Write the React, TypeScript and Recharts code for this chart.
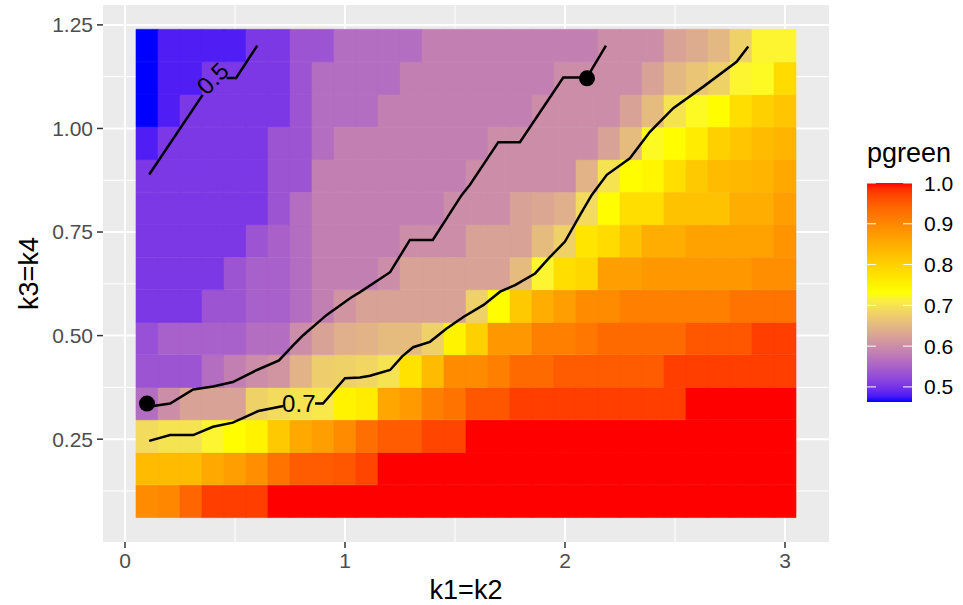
import React from 'react';
import { ScatterChart, Scatter, XAxis, YAxis, ReferenceArea, ReferenceDot, CartesianGrid, Label } from 'recharts';

// ---------- data ----------
const kx = [0.1, 0.2, 0.3, 0.4, 0.5, 0.6, 0.7, 0.8, 0.9, 1.0, 1.1, 1.2, 1.3, 1.4, 1.5, 1.6, 1.7, 1.8, 1.9, 2.0, 2.1, 2.2, 2.3, 2.4, 2.5, 2.6, 2.7, 2.8, 2.9, 3.0];
const ky = [0.1, 0.179, 0.257, 0.336, 0.414, 0.493, 0.571, 0.65, 0.729, 0.807, 0.886, 0.964, 1.043, 1.121, 1.2];

const pg_y0100 = [0.895, 0.9, 0.94, 0.975, 0.975, 0.975, 1, 1, 1, 1, 1, 1, 1, 1, 1, 1, 1, 1, 1, 1, 1, 1, 1, 1, 1, 1, 1, 1, 1, 1];
const pg_y0179 = [0.83, 0.83, 0.83, 0.855, 0.87, 0.89, 0.925, 0.95, 0.95, 0.955, 0.97, 1, 1, 1, 1, 1, 1, 1, 1, 1, 1, 1, 1, 1, 1, 1, 1, 1, 1, 1];
const pg_y0257 = [0.69, 0.7, 0.7, 0.72, 0.735, 0.75, 0.81, 0.855, 0.87, 0.895, 0.93, 0.95, 0.95, 0.97, 0.97, 1, 1, 1, 1, 1, 1, 1, 1, 1, 1, 1, 1, 1, 1, 1];
const pg_y0336 = [0.563, 0.6, 0.625, 0.625, 0.625, 0.68, 0.69, 0.7, 0.705, 0.75, 0.76, 0.86, 0.875, 0.91, 0.925, 0.955, 0.955, 0.975, 0.975, 0.975, 0.975, 0.975, 0.975, 0.975, 0.975, 1, 1, 1, 1, 1];
const pg_y0414 = [0.535, 0.535, 0.535, 0.563, 0.585, 0.6, 0.61, 0.645, 0.675, 0.68, 0.685, 0.7, 0.775, 0.83, 0.895, 0.895, 0.91, 0.935, 0.935, 0.95, 0.95, 0.95, 0.95, 0.95, 0.975, 0.975, 0.975, 0.975, 0.975, 0.975];
const pg_y0493 = [0.53, 0.548, 0.548, 0.548, 0.548, 0.563, 0.563, 0.6, 0.625, 0.64, 0.645, 0.655, 0.655, 0.68, 0.75, 0.8, 0.88, 0.88, 0.91, 0.91, 0.92, 0.935, 0.935, 0.935, 0.935, 0.955, 0.955, 0.955, 0.975, 0.975];
const pg_y0571 = [0.505, 0.505, 0.505, 0.535, 0.535, 0.548, 0.548, 0.563, 0.585, 0.61, 0.625, 0.625, 0.625, 0.625, 0.625, 0.68, 0.735, 0.81, 0.85, 0.87, 0.895, 0.895, 0.91, 0.91, 0.91, 0.91, 0.91, 0.925, 0.925, 0.925];
const pg_y0650 = [0.505, 0.505, 0.505, 0.505, 0.535, 0.548, 0.548, 0.563, 0.585, 0.585, 0.585, 0.6, 0.625, 0.625, 0.625, 0.625, 0.625, 0.655, 0.72, 0.78, 0.79, 0.87, 0.87, 0.88, 0.88, 0.88, 0.88, 0.88, 0.89, 0.89];
const pg_y0729 = [0.505, 0.505, 0.505, 0.505, 0.505, 0.535, 0.55, 0.563, 0.585, 0.585, 0.585, 0.585, 0.6, 0.6, 0.6, 0.625, 0.625, 0.625, 0.655, 0.68, 0.77, 0.785, 0.82, 0.85, 0.85, 0.865, 0.865, 0.865, 0.865, 0.885];
const pg_y0807 = [0.505, 0.505, 0.505, 0.505, 0.505, 0.505, 0.535, 0.563, 0.585, 0.585, 0.585, 0.585, 0.585, 0.585, 0.6, 0.6, 0.6, 0.625, 0.63, 0.64, 0.69, 0.735, 0.78, 0.78, 0.82, 0.82, 0.82, 0.85, 0.85, 0.87];
const pg_y0886 = [0.505, 0.505, 0.505, 0.505, 0.505, 0.505, 0.535, 0.535, 0.585, 0.585, 0.585, 0.585, 0.585, 0.585, 0.585, 0.6, 0.6, 0.6, 0.6, 0.6, 0.645, 0.7, 0.735, 0.745, 0.78, 0.81, 0.83, 0.835, 0.84, 0.855];
const pg_y0964 = [0.48, 0.505, 0.505, 0.505, 0.505, 0.505, 0.535, 0.535, 0.563, 0.585, 0.585, 0.585, 0.585, 0.585, 0.585, 0.585, 0.6, 0.6, 0.6, 0.6, 0.6, 0.625, 0.655, 0.725, 0.735, 0.76, 0.8, 0.815, 0.83, 0.84];
const pg_y1043 = [0.463, 0.48, 0.505, 0.505, 0.505, 0.505, 0.505, 0.535, 0.563, 0.563, 0.563, 0.585, 0.585, 0.585, 0.585, 0.585, 0.585, 0.585, 0.6, 0.6, 0.6, 0.6, 0.625, 0.655, 0.7, 0.725, 0.735, 0.78, 0.8, 0.815];
const pg_y1121 = [0.463, 0.48, 0.48, 0.505, 0.505, 0.505, 0.505, 0.535, 0.563, 0.563, 0.563, 0.563, 0.585, 0.585, 0.585, 0.585, 0.585, 0.585, 0.585, 0.6, 0.6, 0.6, 0.6, 0.625, 0.65, 0.665, 0.68, 0.72, 0.725, 0.785];
const pg_y1200 = [0.463, 0.48, 0.48, 0.48, 0.48, 0.505, 0.505, 0.535, 0.535, 0.563, 0.563, 0.563, 0.563, 0.585, 0.585, 0.585, 0.585, 0.585, 0.585, 0.585, 0.585, 0.6, 0.6, 0.6, 0.625, 0.635, 0.65, 0.68, 0.72, 0.72];

const pgreenRows = [pg_y0100, pg_y0179, pg_y0257, pg_y0336, pg_y0414, pg_y0493, pg_y0571, pg_y0650, pg_y0729, pg_y0807, pg_y0886, pg_y0964, pg_y1043, pg_y1121, pg_y1200];

const contour05a = [{ x: 0.11, y: 0.889 }, { x: 0.353, y: 1.081 }];
const contour05b = [{ x: 0.462, y: 1.122 }, { x: 0.505, y: 1.122 }, { x: 0.601, y: 1.2 }];
const contour06 = [
  { x: 0.105, y: 0.328 }, { x: 0.205, y: 0.336 }, { x: 0.31, y: 0.37 }, { x: 0.4, y: 0.377 }, { x: 0.49, y: 0.388 },
  { x: 0.6, y: 0.417 }, { x: 0.7, y: 0.44 }, { x: 0.765, y: 0.477 }, { x: 0.81, y: 0.501 }, { x: 0.917, y: 0.55 },
  { x: 1.023, y: 0.59 }, { x: 1.068, y: 0.605 }, { x: 1.205, y: 0.653 }, { x: 1.295, y: 0.731 }, { x: 1.399, y: 0.731 },
  { x: 1.53, y: 0.839 }, { x: 1.568, y: 0.864 }, { x: 1.697, y: 0.967 }, { x: 1.795, y: 0.967 }, { x: 1.992, y: 1.123 },
  { x: 2.1, y: 1.123 }, { x: 2.186, y: 1.2 },
];
const contour07a = [
  { x: 0.11, y: 0.246 }, { x: 0.205, y: 0.26 }, { x: 0.31, y: 0.26 }, { x: 0.4, y: 0.28 }, { x: 0.49, y: 0.29 },
  { x: 0.606, y: 0.318 }, { x: 0.72, y: 0.33 },
];
const contour07b = [
  { x: 0.864, y: 0.336 }, { x: 0.9, y: 0.336 }, { x: 1.0, y: 0.397 }, { x: 1.068, y: 0.399 }, { x: 1.114, y: 0.403 },
  { x: 1.205, y: 0.417 }, { x: 1.26, y: 0.45 }, { x: 1.31, y: 0.472 }, { x: 1.386, y: 0.485 }, { x: 1.462, y: 0.517 },
  { x: 1.538, y: 0.545 }, { x: 1.63, y: 0.574 }, { x: 1.705, y: 0.606 }, { x: 1.773, y: 0.622 }, { x: 1.864, y: 0.65 },
  { x: 1.932, y: 0.69 }, { x: 2.0, y: 0.727 }, { x: 2.068, y: 0.791 }, { x: 2.121, y: 0.839 }, { x: 2.19, y: 0.888 },
  { x: 2.295, y: 0.928 }, { x: 2.386, y: 0.992 }, { x: 2.492, y: 1.049 }, { x: 2.629, y: 1.101 }, { x: 2.78, y: 1.161 },
  { x: 2.833, y: 1.198 },
];
const contourLabels = [
  { x: 0.40, y: 1.12, text: '0.5', angle: -45 },
  { x: 0.79, y: 0.335, text: '0.7', angle: 0 },
];
const markedPoints = [{ x: 0.1, y: 0.336 }, { x: 2.1, y: 1.121 }];

const xTicks = [0, 1, 2, 3];
const yTicks = [0.25, 0.5, 0.75, 1.0, 1.25];
const xMinor = [0.5, 1.5, 2.5];
const yMinor = [0.125, 0.375, 0.625, 0.875, 1.125];
const legendTicks = [0.5, 0.6, 0.7, 0.8, 0.9, 1.0];
const fillLimits = [0.463, 1.0];

// ---------- colour scale (Lab interpolation blue - yellow - red) ----------
const WHITE = [0.95047, 1, 1.08883];
const toLin = (c: number) => { c /= 255; return c <= 0.04045 ? c / 12.92 : Math.pow((c + 0.055) / 1.055, 2.4); };
const fromLin = (c: number) => {
  const v = c <= 0.0031308 ? 12.92 * c : 1.055 * Math.pow(Math.max(c, 0), 1 / 2.4) - 0.055;
  return Math.round(Math.max(0, Math.min(1, v)) * 255);
};
function rgb2lab(rgb: number[]) {
  const R = toLin(rgb[0]), G = toLin(rgb[1]), B = toLin(rgb[2]);
  const X = (0.4124 * R + 0.3576 * G + 0.1805 * B) / WHITE[0];
  const Y = 0.2126 * R + 0.7152 * G + 0.0722 * B;
  const Z = (0.0193 * R + 0.1192 * G + 0.9505 * B) / WHITE[2];
  const f = (t: number) => (t > 0.008856 ? Math.cbrt(t) : 7.787 * t + 16 / 116);
  const fx = f(X), fy = f(Y), fz = f(Z);
  return [116 * fy - 16, 500 * (fx - fy), 200 * (fy - fz)];
}
function lab2rgb(L: number, a: number, b: number) {
  const fy = (L + 16) / 116, fx = fy + a / 500, fz = fy - b / 200;
  const finv = (t: number) => (t > 0.206893 ? t * t * t : (t - 16 / 116) / 7.787);
  const X = finv(fx) * WHITE[0], Y = finv(fy), Z = finv(fz) * WHITE[2];
  const R = 3.2406 * X - 1.5372 * Y - 0.4986 * Z;
  const G = -0.9689 * X + 1.8758 * Y + 0.0415 * Z;
  const B = 0.0557 * X - 0.204 * Y + 1.057 * Z;
  return `rgb(${fromLin(R)},${fromLin(G)},${fromLin(B)})`;
}
const anchors = [[0, 0, 255], [255, 255, 0], [255, 0, 0]].map(rgb2lab);
function fillColor(v: number) {
  let t = (v - fillLimits[0]) / (fillLimits[1] - fillLimits[0]);
  t = Math.max(0, Math.min(1, t));
  const s = t * (anchors.length - 1);
  const i = Math.min(anchors.length - 2, Math.floor(s));
  const u = s - i;
  const A = anchors[i], B = anchors[i + 1];
  return lab2rgb(A[0] + (B[0] - A[0]) * u, A[1] + (B[1] - A[1]) * u, A[2] + (B[2] - A[2]) * u);
}

const FONT = '"Liberation Sans", Arial, Helvetica, sans-serif';
const HALF_W = 0.05;
const HALF_H = 0.03929;

const noShape = () => <g />;
const dotShape = (p: any) => <circle cx={p.cx} cy={p.cy} r={8} fill="#000" />;

function Legend() {
  const barX = 867, barW = 45, yTop = 183, yBot = 402;
  const yOf = (v: number) => yTop + ((fillLimits[1] - v) / (fillLimits[1] - fillLimits[0])) * (yBot - yTop);
  const stops = [];
  for (let i = 0; i <= 40; i++) {
    const v = fillLimits[1] - (i / 40) * (fillLimits[1] - fillLimits[0]);
    stops.push(<stop key={i} offset={`${(i / 40) * 100}%`} stopColor={fillColor(v)} />);
  }
  return (
    <svg width={963} height={605} style={{ position: 'absolute', left: 0, top: 0, pointerEvents: 'none' }}>
      <defs>
        <linearGradient id="pgGrad" x1="0" y1="0" x2="0" y2="1">{stops}</linearGradient>
      </defs>
      <text x={867} y={162} fontSize={27} fontFamily={FONT} fill="#000">pgreen</text>
      <rect x={barX} y={yTop} width={barW} height={yBot - yTop} fill="url(#pgGrad)" />
      {legendTicks.map((v) => (
        <g key={v}>
          <line x1={barX} x2={barX + 9} y1={yOf(v)} y2={yOf(v)} stroke="#fff" strokeWidth={1} />
          <line x1={barX + barW - 9} x2={barX + barW} y1={yOf(v)} y2={yOf(v)} stroke="#fff" strokeWidth={1} />
          <text x={924} y={yOf(v) + 7.5} fontSize={21} fontFamily={FONT} fill="#000">{v.toFixed(1)}</text>
        </g>
      ))}
    </svg>
  );
}

export default function App() {
  const tiles: any[] = [];
  pgreenRows.forEach((row, j) => {
    row.forEach((v, i) => {
      const c = fillColor(v);
      tiles.push(
        <ReferenceArea key={`t${i}-${j}`} x1={kx[i] - HALF_W} x2={kx[i] + HALF_W} y1={ky[j] - HALF_H} y2={ky[j] + HALF_H}
          fill={c} fillOpacity={1} stroke={c} strokeWidth={0.6} ifOverflow="visible" />
      );
    });
  });
  const lineStyle = { stroke: '#000', strokeWidth: 2.5 };
  return (
    <div style={{ position: 'absolute', left: 0, top: 0, width: 963, height: 605, background: '#fff' }}>
      <ScatterChart width={963} height={605} margin={{ top: 5, right: 134, bottom: 0, left: 0 }}>
        <CartesianGrid fill="#EBEBEB" fillOpacity={1} stroke="#ffffff" strokeWidth={1} horizontalValues={yMinor} verticalValues={xMinor} />
        <CartesianGrid stroke="#ffffff" strokeWidth={2} horizontalValues={yTicks} verticalValues={xTicks} />
        <XAxis type="number" dataKey="x" domain={[-0.1, 3.2]} ticks={xTicks} allowDataOverflow interval={0}
          axisLine={false} tickLine={{ stroke: '#333333', strokeWidth: 1.5 }} tickSize={6} tickMargin={5} height={63}
          tick={{ fill: '#4d4d4d', fontSize: 21, fontFamily: FONT }} tickFormatter={(v: number) => String(v)}>
          <Label content={(p: any) => {
            const vb = p.viewBox;
            return <text x={vb.x + vb.width / 2} y={vb.y + vb.height - 6} textAnchor="middle" fontSize={27} fontFamily={FONT} fill="#000">k1=k2</text>;
          }} />
        </XAxis>
        <YAxis type="number" dataKey="y" domain={[0.0018, 1.298]} ticks={yTicks} allowDataOverflow interval={0}
          axisLine={false} tickLine={{ stroke: '#333333', strokeWidth: 1.5 }} tickSize={6} tickMargin={4} width={103}
          tick={{ fill: '#4d4d4d', fontSize: 21, fontFamily: FONT }} tickFormatter={(v: number) => v.toFixed(2)}>
          <Label content={(p: any) => {
            const vb = p.viewBox;
            const cx = 38, cy = vb.y + vb.height / 2;
            return <text x={cx} y={cy} transform={`rotate(-90, ${cx}, ${cy})`} textAnchor="middle" fontSize={27} fontFamily={FONT} fill="#000">k3=k4</text>;
          }} />
        </YAxis>
        {tiles}
        <Scatter data={contour05a} line={lineStyle} lineType="joint" shape={noShape} isAnimationActive={false} />
        <Scatter data={contour05b} line={lineStyle} lineType="joint" shape={noShape} isAnimationActive={false} />
        <Scatter data={contour06} line={lineStyle} lineType="joint" shape={noShape} isAnimationActive={false} />
        <Scatter data={contour07a} line={lineStyle} lineType="joint" shape={noShape} isAnimationActive={false} />
        <Scatter data={contour07b} line={lineStyle} lineType="joint" shape={noShape} isAnimationActive={false} />
        <Scatter data={markedPoints} shape={dotShape} isAnimationActive={false} />
        {contourLabels.map((l) => (
          <ReferenceDot key={l.text} x={l.x} y={l.y} r={0} fill="none" stroke="none"
            label={(p: any) => {
              const vb = p.viewBox;
              const cx = vb.x + (vb.width || 0) / 2, cy = vb.y + (vb.height || 0) / 2;
              return <text x={cx} y={cy} dy={8} textAnchor="middle" fontSize={24} fontFamily={FONT} fill="#000"
                transform={`rotate(${l.angle}, ${cx}, ${cy})`}>{l.text}</text>;
            }} />
        ))}
      </ScatterChart>
      <Legend />
    </div>
  );
}
